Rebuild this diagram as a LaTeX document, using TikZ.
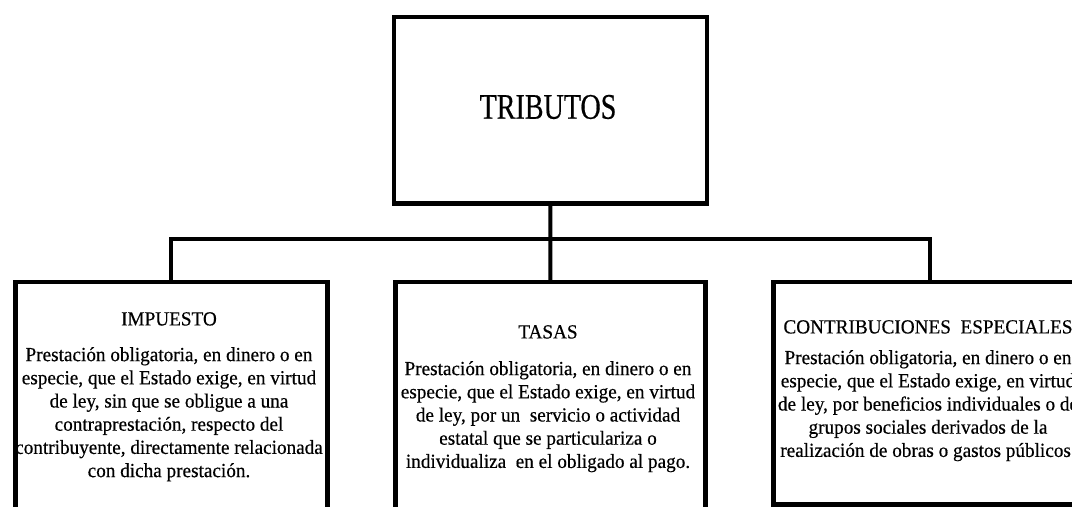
\documentclass[tikz,border=0pt]{standalone}
\usepackage{fontspec}
\setmainfont[FakeBold=0.4]{Liberation Serif}
\newfontfamily\bodyfont[FakeStretch=0.96,FakeBold=0.4]{Liberation Serif}
\newfontfamily\condfont[FakeStretch=0.78,FakeBold=0.4]{Liberation Serif}
\begin{document}
\begin{tikzpicture}[x=1bp,y=-1bp,
  box/.style={draw=black, line width=4.5bp, fill=white, inner sep=0pt, anchor=north west},
  conn/.style={draw=black, line width=4bp},
  head/.style={inner sep=0pt, anchor=north, font=\bodyfont\fontsize{20bp}{23bp}\selectfont},
  body/.style={inner sep=0pt, anchor=north, align=center, font=\bodyfont\fontsize{20bp}{23.2bp}\selectfont}]
\useasboundingbox (0,0) rectangle (1072,507);
\fill[white] (0,0) rectangle (1072,507);
\clip (0,0) rectangle (1072,507);
% boxes
\node[box, minimum width=313bp, minimum height=186bp] (trib) at (391.5,15) {};
\node[font=\condfont\fontsize{36bp}{40bp}\selectfont, inner sep=0pt] (tribt) at (548,107) {TRIBUTOS};
\node[box, minimum width=312bp, minimum height=260bp] (imp) at (13,280) {};
\node[box, minimum width=310bp, minimum height=260bp] (tas) at (393,280) {};
\node[box, minimum width=314bp, minimum height=222bp] (con) at (771,280) {};
% connectors
\coordinate (j) at (548,239);
\draw[conn] (trib.south) -- (tas.north);
\draw[conn] (imp.north) |- (j) -| (con.north);
% texts
\node[head] (imph) at (169,312) {IMPUESTO};
\node[body] (impb) at (169,347) {Prestación obligatoria, en dinero o en\\especie, que el Estado exige, en virtud\\de ley, sin que se obligue a una\\contraprestación, respecto del\\contribuyente, directamente relacionada\\con dicha prestación.};
\node[head] (tash) at (548,325) {TASAS};
\node[body] (tasb) at (548,361) {Prestación obligatoria, en dinero o en\\especie, que el Estado exige, en virtud\\de ley, por un\ \ servicio o actividad\\estatal que se particulariza o\\individualiza\ \ en el obligado al pago.};
\node[head] (conh) at (928,320) {CONTRIBUCIONES\ \ ESPECIALES};
\node[body] (conb) at (928,350) {Prestación obligatoria, en dinero o en\\especie, que el Estado exige, en virtud\\de ley, por beneficios individuales o de\\grupos sociales derivados de la\\realización de obras o gastos públicos.};
\end{tikzpicture}
\end{document}
